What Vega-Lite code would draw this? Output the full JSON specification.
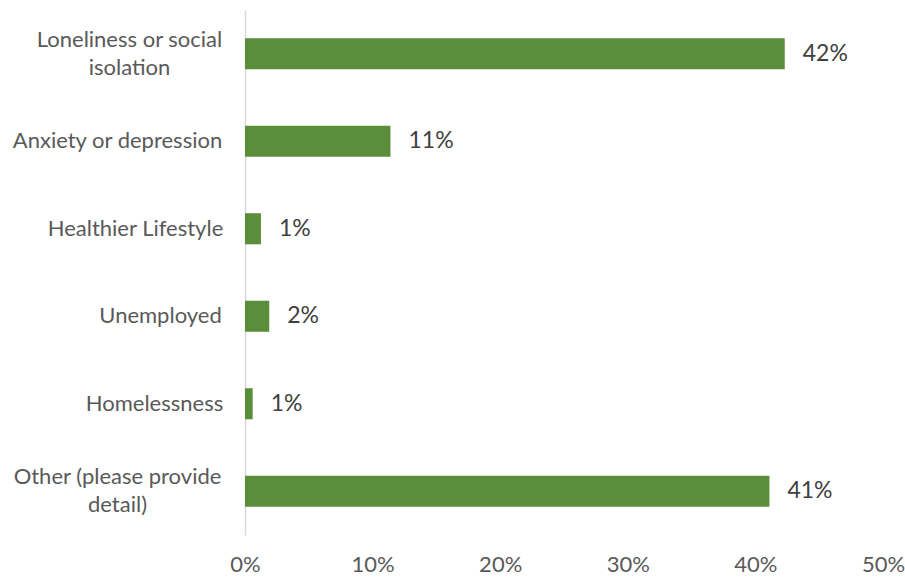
{
  "$schema": "https://vega.github.io/schema/vega-lite/v6.json",
  "width": 638,
  "height": 525,
  "autosize": "none",
  "padding": {"left": 245, "top": 10, "right": 22, "bottom": 42},
  "background": "white",
  "config": {"view": {"stroke": null}, "font": "Lato"},
  "data": {
    "values": [
      {"cause": "Loneliness or social isolation", "value": 0.423, "label": "42%"},
      {"cause": "Anxiety or depression", "value": 0.114, "label": "11%"},
      {"cause": "Healthier Lifestyle", "value": 0.0125, "label": "1%"},
      {"cause": "Unemployed", "value": 0.019, "label": "2%"},
      {"cause": "Homelessness", "value": 0.006, "label": "1%"},
      {"cause": "Other (please provide detail)", "value": 0.411, "label": "41%"}
    ]
  },
  "encoding": {
    "y": {
      "field": "cause",
      "type": "nominal",
      "sort": null,
      "scale": {"paddingInner": 0.645, "paddingOuter": 0.3225},
      "axis": {
        "title": null,
        "ticks": false,
        "domainColor": "#D9D9D9",
        "domainWidth": 1.5,
        "labelFont": "Lato",
        "labelFontSize": 22,
        "labelColor": "#595959",
        "labelAlign": "center",
        "labelLimit": 300,
        "labelLineHeight": 28,
        "labelExpr": "datum.value == 'Loneliness or social isolation' ? ['Loneliness or social', 'isolation'] : datum.value == 'Other (please provide detail)' ? ['Other (please provide', 'detail)'] : datum.value",
        "labelOffset": {"expr": "datum.value == 'Loneliness or social isolation' || datum.value == 'Other (please provide detail)' ? -14 : 0"},
        "labelPadding": {"expr": "datum.value == 'Loneliness or social isolation' ? 116 : datum.value == 'Anxiety or depression' ? 128 : datum.value == 'Healthier Lifestyle' ? 110 : datum.value == 'Unemployed' ? 85 : datum.value == 'Homelessness' ? 91 : 128"}
      }
    },
    "x": {
      "field": "value",
      "type": "quantitative",
      "scale": {"domain": [0, 0.5]},
      "axis": {
        "title": null,
        "format": ".0%",
        "values": [0, 0.1, 0.2, 0.3, 0.4, 0.5],
        "grid": false,
        "domain": false,
        "ticks": false,
        "labelFlush": false,
        "labelFont": "Lato",
        "labelFontSize": 22,
        "labelColor": "#595959",
        "labelPadding": 19
      }
    }
  },
  "layer": [
    {"mark": {"type": "bar", "color": "#5B8E3A"}},
    {
      "mark": {"type": "text", "align": "left", "dx": 18, "font": "Lato", "fontSize": 23, "color": "#404040", "baseline": "middle"},
      "encoding": {"text": {"field": "label"}}
    }
  ]
}
